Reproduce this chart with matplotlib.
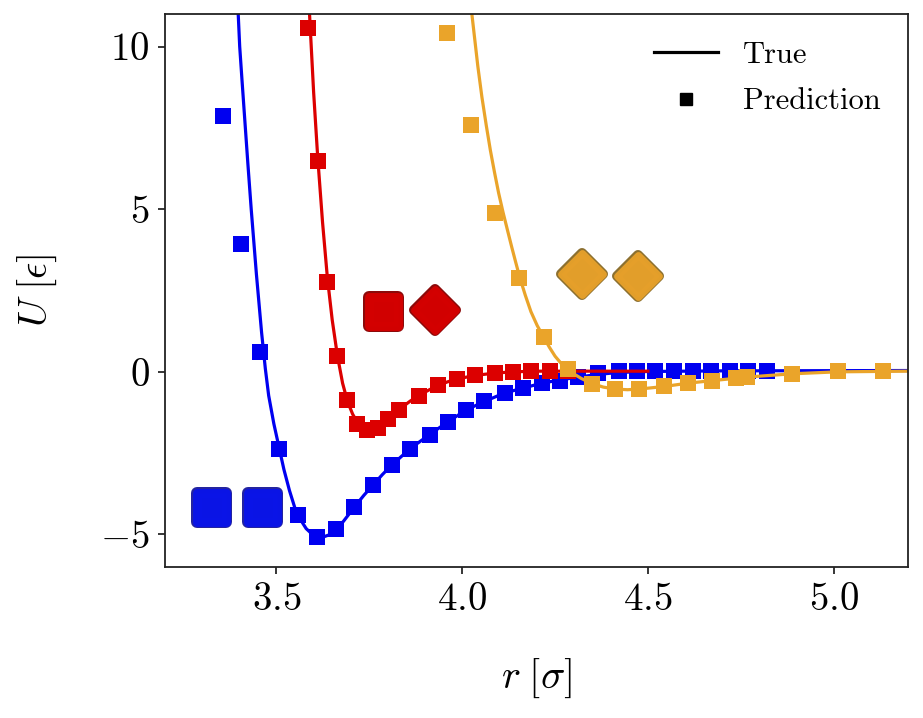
import numpy as np
import matplotlib
matplotlib.use('Agg')
import matplotlib.pyplot as plt
from matplotlib.lines import Line2D
from matplotlib.markers import MarkerStyle

plt.rcParams['mathtext.fontset'] = 'cm'
plt.rcParams['font.family'] = 'serif'
plt.rcParams['font.serif'] = ['cmr10']
plt.rcParams['axes.formatter.use_mathtext'] = True

# true potential curves
blue_r = [3.397, 3.401, 3.407, 3.414, 3.423, 3.432, 3.446, 3.460, 3.470, 3.479, 3.493,
          3.508, 3.520, 3.535, 3.550, 3.565, 3.580, 3.595, 3.610, 3.625, 3.640, 3.659,
          3.680, 3.709, 3.735, 3.760, 3.785, 3.810, 3.860, 3.912, 3.961, 4.011, 4.060,
          4.114, 4.164, 4.214, 4.263, 4.313, 4.365, 4.420, 4.500, 4.700, 5.200]
blue_u = [11.0, 10.0, 9.0, 7.86, 6.4, 5.0, 3.0, 1.2, 0.1, -0.73, -1.6,
          -2.38, -3.0, -3.65, -4.2, -4.55, -4.82, -4.98, -5.07, -5.08, -5.02, -4.86,
          -4.6, -4.17, -3.8, -3.48, -3.16, -2.87, -2.36, -1.93, -1.54, -1.17, -0.91,
          -0.65, -0.50, -0.35, -0.25, -0.16, -0.08, -0.02, 0.01, 0.03, 0.04]

red_r = [3.589, 3.600, 3.611, 3.624, 3.637, 3.650, 3.664, 3.678, 3.691, 3.705, 3.718,
         3.732, 3.745, 3.758, 3.772, 3.785, 3.799, 3.815, 3.831, 3.860, 3.885, 3.910,
         3.934, 3.960, 3.986, 4.035, 4.087, 4.137, 4.200, 4.500]
red_u = [11.0, 8.6, 6.6, 4.6, 2.9, 1.6, 0.5, -0.35, -0.9, -1.3, -1.56,
         -1.72, -1.79, -1.79, -1.73, -1.62, -1.48, -1.31, -1.15, -0.90, -0.72, -0.56,
         -0.43, -0.31, -0.22, -0.11, -0.04, 0.0, 0.02, 0.02]

orange_r = [4.026, 4.034, 4.042, 4.053, 4.065, 4.076, 4.087, 4.098, 4.110, 4.122, 4.133,
            4.144, 4.155, 4.170, 4.185, 4.202, 4.220, 4.235, 4.250, 4.267, 4.284, 4.300,
            4.320, 4.349, 4.380, 4.412, 4.445, 4.477, 4.544, 4.607, 4.673, 4.736, 4.768,
            4.889, 5.011, 5.200]
orange_u = [11.0, 10.2, 9.4, 8.45, 7.56, 6.8, 6.13, 5.5, 4.9, 4.35, 3.85,
            3.37, 2.9, 2.35, 1.85, 1.42, 1.05, 0.75, 0.48, 0.25, 0.08, -0.06,
            -0.2, -0.36, -0.47, -0.53, -0.55, -0.53, -0.45, -0.35, -0.27, -0.20, -0.16,
            -0.06, 0.0, 0.02]

# predicted values
blue_pr = [3.357, 3.405, 3.457, 3.508, 3.558, 3.609, 3.659, 3.709, 3.760, 3.810, 3.860,
           3.912, 3.961, 4.011, 4.060, 4.114, 4.164, 4.214, 4.263, 4.313, 4.365, 4.421,
           4.470, 4.520, 4.570, 4.620, 4.670, 4.720, 4.770, 4.820]
blue_pu = [7.85, 3.93, 0.60, -2.38, -4.39, -5.07, -4.82, -4.17, -3.48, -2.87, -2.36,
           -1.93, -1.54, -1.17, -0.91, -0.65, -0.50, -0.35, -0.27, -0.16, -0.04, 0.04,
           0.04, 0.04, 0.04, 0.04, 0.04, 0.04, 0.04, 0.04]

red_pr = [3.584, 3.611, 3.637, 3.664, 3.691, 3.718, 3.745, 3.772, 3.799, 3.831, 3.885,
          3.934, 3.986, 4.035, 4.087, 4.137, 4.186, 4.236, 4.285]
red_pu = [10.58, 6.47, 2.76, 0.48, -0.88, -1.60, -1.80, -1.73, -1.46, -1.16, -0.73,
          -0.42, -0.21, -0.11, -0.04, 0.01, 0.02, 0.02, 0.02]

orange_pr = [3.959, 4.024, 4.089, 4.154, 4.219, 4.284, 4.349, 4.412, 4.477, 4.544, 4.607,
             4.673, 4.736, 4.768, 4.889, 5.011, 5.132]
orange_pu = [10.43, 7.58, 4.88, 2.88, 1.07, 0.09, -0.38, -0.54, -0.54, -0.45, -0.35,
             -0.27, -0.20, -0.16, -0.06, 0.02, 0.02]

# little molecule pictograms: (x, y, shape)
blue_icons = [(3.324, -4.17, 's'), (3.462, -4.17, 's')]
red_icons = [(3.786, 1.87, 's'), (3.927, 1.90, 'D')]
orange_icons = [(4.322, 3.0, 'D'), (4.473, 2.94, 'D')]

BLUE = '#0000f0'
RED = '#dc0000'
ORANGE = '#eaa42a'

fig = plt.figure(figsize=(9.23, 7.18), dpi=100)
ax = fig.add_axes([0.1788, 0.2103, 0.8049, 0.7702])


def draw_icons(icons, face, edge):
    for x, y, shape in icons:
        if shape == 's':
            ms, r = 29 * 0.72, 6 * 0.72
        else:
            ms, r = 29.5 * 0.72, 5 * 0.72
        m = MarkerStyle(shape, joinstyle='round')
        ax.plot([x], [y], marker=m, ms=ms, mfc=edge, mec=edge, mew=2 * r,
                ls='none', zorder=5)
        ax.plot([x], [y], marker=m, ms=ms, mfc=face, mec=face, mew=2 * r - 2.2,
                ls='none', zorder=5, alpha=0.97)


for r, u, pr, pu, c in [(blue_r, blue_u, blue_pr, blue_pu, BLUE),
                        (red_r, red_u, red_pr, red_pu, RED),
                        (orange_r, orange_u, orange_pr, orange_pu, ORANGE)]:
    ax.plot(r, u, color=c, lw=2.3, solid_joinstyle='round')
    ax.plot(pr, pu, ls='none', marker='s', ms=11.5, color=c, mew=0)

draw_icons(blue_icons, '#0a14e8', '#2424a0')
draw_icons(red_icons, '#d40000', '#8c0a0a')
draw_icons(orange_icons, '#e6a02a', '#8c7030')

ax.set_xlim(3.2, 5.2)
ax.set_ylim(-6, 11)
ax.set_xticks([3.5, 4.0, 4.5, 5.0])
ax.set_yticks([-5, 0, 5, 10])
ax.tick_params(labelsize=28, length=5, width=1.1, pad=6)
for s in ax.spines.values():
    s.set_linewidth(1.3)
    s.set_color('#222222')

ax.set_xlabel(r'$r\;[\sigma]$', fontsize=29, labelpad=28)
ax.set_ylabel(r'$U\;[\epsilon]$', fontsize=29, labelpad=30)

handles = [Line2D([0], [0], color='k', lw=2.3),
           Line2D([0], [0], color='k', marker='s', ls='none', ms=9)]
ax.legend(handles, ['True', 'Prediction'], loc='upper right', frameon=False,
          fontsize=22, handlelength=2.1, handletextpad=0.8, labelspacing=0.62)

fig.savefig('out.png', dpi=100)
